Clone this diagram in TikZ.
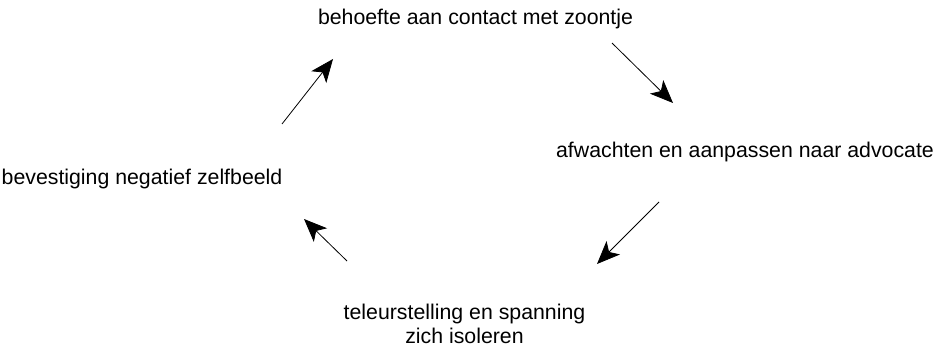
\documentclass[tikz,border=0pt]{standalone}
\usepackage{fontspec}
\setmainfont{Liberation Sans}
\usepackage{tikz}
\usetikzlibrary{arrows.meta}

\begin{document}
\begin{tikzpicture}[x=1pt,y=-1pt,
    stap/.style={font=\fontsize{21.3}{24}\selectfont, inner sep=0pt, anchor=base, align=center},
    pijl/.style={-{Stealth[length=23pt,width=19pt,inset=6pt]}, line width=0.8pt}]
    \useasboundingbox (0,0) rectangle (934,347);

    % the four steps of the cycle
    \node[stap] (behoefte) at (475.5,25) {behoefte aan contact met zoontje};
    \node[stap] (afwachten) at (745,158) {afwachten en aanpassen naar advocate};
    \node[stap] (teleur) at (464.5,343) {teleurstelling en spanning\\zich isoleren};
    \node[stap] (bevestiging) at (142,185) {bevestiging negatief zelfbeeld};

    % arrow ends
    \coordinate (p1) at (612,43);
    \coordinate (q1) at (673,103);
    \coordinate (p2) at (659,202);
    \coordinate (q2) at (597,264);
    \coordinate (p3) at (347,261);
    \coordinate (q3) at (304,219);
    \coordinate (p4) at (282,124);
    \coordinate (q4) at (333,59);

    % cycle arrows
    \draw[pijl] (p1) -- (q1);
    \draw[pijl] (p2) -- (q2);
    \draw[pijl] (p3) -- (q3);
    \draw[pijl] (p4) -- (q4);
\end{tikzpicture}
\end{document}
